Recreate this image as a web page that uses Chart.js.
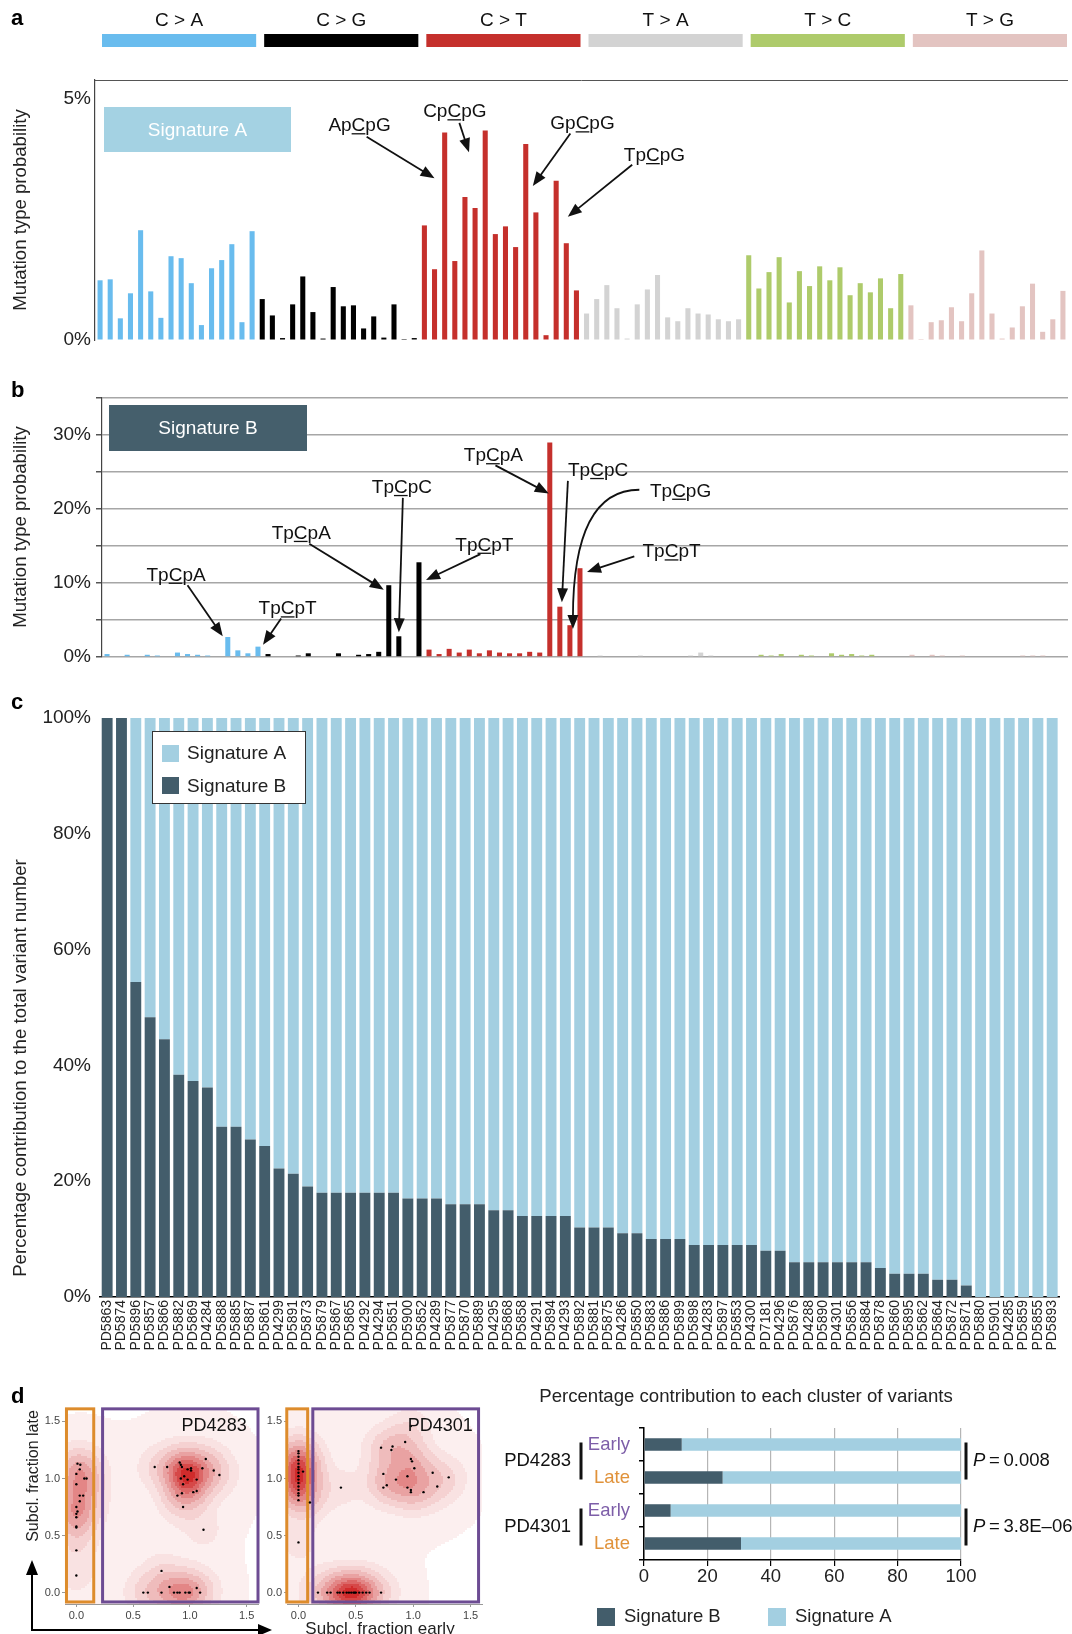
<!DOCTYPE html>
<html>
<head>
<meta charset="utf-8">
<script src="https://cdn.jsdelivr.net/npm/chart.js@4.4.1/dist/chart.umd.min.js"></script>
<style>
  body { margin: 0; background: #fff; }
  #page { position: relative; width: 1072px; height: 1634px; overflow: hidden; font-family: 'Liberation Sans', Arial, sans-serif; }
  canvas { position: absolute; }
  svg { position: absolute; left: 0; top: 0; pointer-events: none; }
</style>
</head>
<body>
<div id="page">
  <canvas id="chartA" width="1072" height="360" style="left:0;top:0"></canvas>
  <canvas id="chartB" width="1072" height="320" style="left:0;top:360px"></canvas>
  <canvas id="chartC" width="1072" height="680" style="left:0;top:690px"></canvas>
  <canvas id="chartD1" width="262" height="244" style="left:0;top:1390px"></canvas>
  <canvas id="chartD2" width="230" height="244" style="left:262px;top:1390px"></canvas>
  <canvas id="chartD3" width="592" height="254" style="left:480px;top:1380px"></canvas>
  <svg width="1072" height="1634" font-family="'Liberation Sans', Arial, sans-serif">
    <text x="11" y="25" font-size="22" font-weight="bold">a</text>
    <text x="11" y="397" font-size="22" font-weight="bold">b</text>
    <text x="11" y="709" font-size="22" font-weight="bold">c</text>
    <text x="11" y="1403" font-size="22" font-weight="bold">d</text>
    <line x1="32" y1="1630" x2="32" y2="1572" stroke="#000" stroke-width="2"/>
    <polygon points="32,1560 26,1575 38,1575" fill="#000"/>
    <line x1="31" y1="1630" x2="262" y2="1630" stroke="#000" stroke-width="2"/>
    <polygon points="272,1630 258,1624 258,1636" fill="#000"/>
    <text transform="translate(37.5,1476) rotate(-90)" text-anchor="middle" font-size="16" fill="#222">Subcl. fraction late</text>
    <text x="380" y="1634" text-anchor="middle" font-size="17" fill="#222">Subcl. fraction early</text>
  </svg>
</div>
<script>
const FONT = "'Liberation Sans', Arial, sans-serif";
Chart.defaults.font.family = FONT;
Chart.defaults.color = '#222';

// ---- panel a / b : mutational signatures (96 channels) ----
const substitutionTypes = ['C > A', 'C > G', 'C > T', 'T > A', 'T > C', 'T > G'];
const flanks = ['A', 'C', 'G', 'T'];

const sigA_CtoA = [1.24, 1.26, 0.45, 0.97, 2.28, 1.01, 0.46, 1.74, 1.70, 1.18, 0.31, 1.49, 1.66, 1.99, 0.37, 2.26];
const sigA_CtoG = [0.85, 0.51, 0.04, 0.74, 1.32, 0.58, 0.03, 1.10, 0.70, 0.72, 0.24, 0.49, 0.05, 0.74, 0.02, 0.04];
const sigA_CtoT = [2.38, 1.47, 4.31, 1.64, 2.97, 2.74, 4.35, 2.20, 2.36, 1.93, 4.07, 2.65, 0.10, 3.31, 2.01, 1.03];
const sigA_TtoA = [0.55, 0.85, 1.14, 0.66, 0.03, 0.74, 1.05, 1.35, 0.47, 0.39, 0.66, 0.55, 0.53, 0.43, 0.39, 0.43];
const sigA_TtoC = [1.76, 1.07, 1.41, 1.72, 0.78, 1.43, 1.12, 1.53, 1.24, 1.51, 0.93, 1.18, 0.99, 1.28, 0.66, 1.37];
const sigA_TtoG = [0.72, 0.02, 0.37, 0.41, 0.68, 0.39, 0.97, 1.86, 0.55, 0.03, 0.26, 0.70, 1.17, 0.17, 0.43, 1.02];

const sigB_CtoA = [0.4, 0.1, 0.3, 0.1, 0.3, 0.2, 0.1, 0.6, 0.4, 0.3, 0.2, 0.1, 2.7, 0.9, 0.5, 1.4];
const sigB_CtoG = [0.4, 0.1, 0.0, 0.2, 0.5, 0.0, 0.0, 0.5, 0.1, 0.3, 0.4, 0.7, 9.7, 2.8, 0.1, 12.8];
const sigB_CtoT = [1.0, 0.4, 1.1, 0.6, 1.0, 0.5, 0.9, 0.6, 0.5, 0.5, 0.7, 0.6, 29.0, 6.8, 4.3, 12.0];
const sigB_TtoA = [0.1, 0.2, 0.1, 0.0, 0.1, 0.2, 0.1, 0.1, 0.1, 0.1, 0.2, 0.6, 0.2, 0.1, 0.1, 0.1];
const sigB_TtoC = [0.1, 0.3, 0.2, 0.4, 0.1, 0.3, 0.2, 0.1, 0.5, 0.3, 0.4, 0.2, 0.3, 0.1, 0.1, 0.0];
const sigB_TtoG = [0.3, 0.1, 0.3, 0.2, 0.1, 0.2, 0.0, 0.0, 0.0, 0.0, 0.1, 0.2, 0.2, 0.2, 0.1, 0.1];

// ---- panel c : per-sample contribution ----
const samples = ['PD5863','PD5874','PD5896','PD5857','PD5866','PD5882','PD5869','PD4284','PD5888','PD5885',
  'PD5887','PD5861','PD4299','PD5891','PD5873','PD5879','PD5867','PD5865','PD4292','PD4294',
  'PD5851','PD5900','PD5852','PD4289','PD5877','PD5870','PD5889','PD4295','PD5868','PD5858',
  'PD4291','PD5894','PD4293','PD5892','PD5881','PD5875','PD4286','PD5850','PD5883','PD5886',
  'PD5899','PD5898','PD4283','PD5897','PD5853','PD4300','PD7181','PD4296','PD5876','PD4288',
  'PD5890','PD4301','PD5856','PD5884','PD5878','PD5860','PD5895','PD5862','PD5864','PD5872',
  'PD5871','PD5880','PD5901','PD4285','PD5859','PD5855','PD5893'];
const sampleSigB = [100, 100, 54.4, 48.3, 44.5, 38.4, 37.3, 36.2, 29.4, 29.4,
  27.2, 26.1, 22.2, 21.3, 19.1, 18, 18, 18, 18, 18,
  18, 17, 17, 17, 16, 16, 16, 15, 15, 14,
  14, 14, 14, 12, 12, 12, 11, 11, 10, 10,
  10, 9, 9, 9, 9, 9, 8, 8, 6, 6,
  6, 6, 6, 6, 5, 4, 4, 4, 3, 3,
  2, 0, 0, 0, 0, 0, 0];
const sampleSigA = [0, 0, 45.6, 51.7, 55.5, 61.6, 62.7, 63.8, 70.6, 70.6,
  72.8, 73.9, 77.8, 78.7, 80.9, 82, 82, 82, 82, 82,
  82, 83, 83, 83, 84, 84, 84, 85, 85, 86,
  86, 86, 86, 88, 88, 88, 89, 89, 90, 90,
  90, 91, 91, 91, 91, 91, 92, 92, 94, 94,
  94, 94, 94, 94, 95, 96, 96, 96, 97, 97,
  98, 100, 100, 100, 100, 100, 100];

// ---- panel d : subclonal fractions (early, late) ----
const pd4283Points = [[0.01,1.13],[0.035,1.12],[0.03,1.08],[0.0,1.04],[0.07,1.0],[0.09,1.0],[0.0,0.95],[0.03,0.85],
  [0.06,0.85],[0.03,0.80],[0.0,0.75],[0.01,0.71],[0.0,0.69],[0.0,0.66],[0.0,0.58],[0.0,0.57],[0.0,0.37],[0.0,0.15],
  [0.69,1.10],[0.80,1.10],[0.91,1.14],[0.92,1.12],[0.93,1.10],[0.98,1.08],[1.01,1.09],[1.01,1.07],[0.92,1.00],
  [0.95,1.02],[0.98,0.99],[1.06,0.99],[1.11,1.09],[1.14,1.17],[1.21,1.07],[1.26,1.03],[0.94,0.95],[0.89,0.85],
  [1.03,0.88],[1.06,0.89],[0.93,0.87],[0.94,0.75],[1.12,0.55],
  [0.59,0.0],[0.63,0.0],[0.75,0.0],[0.75,0.19],[0.82,0.05],[0.86,0.0],[0.89,0.0],[0.91,0.0],[0.96,0.0],
  [0.99,0.0],[1.0,0.0],[1.06,0.04],[1.09,0.0]];
const pd4301Points = [[0,1.24],[0,1.22],[0,1.19],[0,1.16],[0,1.13],[0,1.10],[0,1.08],[0,1.05],[0,1.02],[0,0.99],
  [0,0.96],[0,0.93],[0,0.90],[0,0.87],[0,0.85],[0,0.81],[0.04,1.06],[0.10,0.79],[0,0.44],
  [0.72,1.27],[0.81,1.25],[0.82,1.28],[0.93,1.32],[0.98,1.46],[0.74,1.04],[0.85,0.99],[0.95,1.02],[0.99,1.15],
  [0.98,1.17],[1.01,1.09],[0.74,0.92],[0.77,0.94],[0.95,0.92],[0.98,0.90],[0.98,0.88],[1.09,0.88],[1.17,1.05],
  [1.21,0.93],[1.31,1.01],[0.37,0.92],
  [0.17,0],[0.25,0],[0.28,0],[0.34,0],[0.36,0],[0.39,0],[0.42,0],[0.44,0],[0.46,0],[0.48,0],[0.49,0],
  [0.50,0],[0.53,0],[0.56,0],[0.59,0],[0.62,0],[0.72,0]];

const clusterLabels = ['Early', 'Late', 'Early', 'Late'];
const clusterPatients = ['PD4283', 'PD4301'];
const clusterSigB = [11.9, 24.8, 8.4, 30.6];
const clusterSigA = [88.1, 75.2, 91.6, 69.4];
const clusterPValues = ['0.008', '3.8E\u201306'];

// ---- styles ----
const typeColors = ['#69bcee', '#000000', '#c5302c', '#d3d3d3', '#aecb6b', '#e3c4c1'];
const colorSigA = '#a3cfe1';
const colorSigB = '#435d6b';
const earlyColor = '#7d5ea8';
const lateColor = '#e0923a';

const channels = [];
substitutionTypes.forEach(t => {
  const ref = t[0];
  flanks.forEach(a => flanks.forEach(b => channels.push(a + 'p' + ref + 'p' + b)));
});
const signatureA = [].concat(sigA_CtoA, sigA_CtoG, sigA_CtoT, sigA_TtoA, sigA_TtoC, sigA_TtoG);
const signatureB = [].concat(sigB_CtoA, sigB_CtoG, sigB_CtoT, sigB_TtoA, sigB_TtoC, sigB_TtoG);

// annotation positions in data units: [channel index, value]
const annotA = [
  { text: 'ApCpG', at: [25.6, 4.48], from: [26.3, 4.22], to: [33.0, 3.36] },
  { text: 'CpCpG', at: [35.0, 4.77], from: [35.45, 4.51], to: [36.4, 3.9] },
  { text: 'GpCpG', at: [47.6, 4.52], from: [46.4, 4.29], to: [42.7, 3.2] },
  { text: 'TpCpG', at: [54.7, 3.86], from: [52.5, 3.64], to: [46.15, 2.56] }
];
const annotB = [
  { text: 'TpCpA', at: [6.86, 11.25], from: [8.0, 9.7], to: [11.5, 2.8] },
  { text: 'TpCpT', at: [17.95, 6.7], from: [17.3, 5.2], to: [15.5, 1.66] },
  { text: 'TpCpA', at: [19.3, 16.9], from: [20.1, 15.3], to: [27.5, 9.1] },
  { text: 'TpCpC', at: [29.3, 23.1], from: [29.4, 21.5], to: [29.0, 3.35] },
  { text: 'TpCpT', at: [37.5, 15.3], from: [37.1, 13.9], to: [31.7, 10.4] },
  { text: 'TpCpA', at: [38.4, 27.4], from: [38.6, 25.9], to: [43.9, 22.1] },
  { text: 'TpCpC', at: [48.8, 25.4], from: [45.8, 23.8], to: [45.2, 7.4] },
  { text: 'TpCpG', at: [57.0, 22.6], from: [52.9, 22.6], to: [46.3, 3.8], bend: [46.3, 22.6] },
  { text: 'TpCpT', at: [56.1, 14.4], from: [52.4, 13.6], to: [47.7, 11.5] }
];

// ---- drawing helpers ----
function verticalText(ctx, text, x, y, size) {
  ctx.save();
  ctx.translate(x, y);
  ctx.rotate(-Math.PI / 2);
  ctx.font = size + 'px ' + FONT;
  ctx.fillStyle = '#222';
  ctx.textAlign = 'center';
  ctx.textBaseline = 'middle';
  ctx.fillText(text, 0, 0);
  ctx.restore();
}

function arrowHead(ctx, x, y, ang) {
  const L = 14, W = 5.5;
  ctx.beginPath();
  ctx.moveTo(x, y);
  ctx.lineTo(x - L * Math.cos(ang) + W * Math.sin(ang), y - L * Math.sin(ang) - W * Math.cos(ang));
  ctx.lineTo(x - L * Math.cos(ang) - W * Math.sin(ang), y - L * Math.sin(ang) + W * Math.cos(ang));
  ctx.closePath();
  ctx.fill();
}

function annotationPlugin(list) {
  return {
    id: 'motifs',
    afterDatasetsDraw(chart) {
      const { ctx, scales: { x, y } } = chart;
      const p = d => [x.getPixelForValue(d[0]), y.getPixelForValue(d[1])];
      ctx.save();
      ctx.fillStyle = '#111';
      ctx.strokeStyle = '#111';
      list.forEach(a => {
        const [cx, cy] = p(a.at);
        ctx.font = '19px ' + FONT;
        ctx.textAlign = 'left';
        ctx.textBaseline = 'alphabetic';
        const w = ctx.measureText(a.text).width;
        const left = cx - w / 2, base = cy + 7;
        ctx.fillText(a.text, left, base);
        const pre = ctx.measureText(a.text.slice(0, 2)).width;
        const cw = ctx.measureText(a.text[2]).width;
        ctx.lineWidth = 1.3;
        ctx.beginPath();
        ctx.moveTo(left + pre, base + 2.5);
        ctx.lineTo(left + pre + cw, base + 2.5);
        ctx.stroke();

        const [x1, y1] = p(a.from), [x2, y2] = p(a.to);
        ctx.lineWidth = 1.8;
        if (a.bend) {
          const [bx, by] = p(a.bend);
          const ang = Math.atan2(y2 - by, x2 - bx);
          ctx.beginPath();
          ctx.moveTo(x1, y1);
          ctx.quadraticCurveTo(bx, by, x2 - 11 * Math.cos(ang), y2 - 11 * Math.sin(ang));
          ctx.stroke();
          arrowHead(ctx, x2, y2, ang);
        } else {
          const ang = Math.atan2(y2 - y1, x2 - x1);
          ctx.beginPath();
          ctx.moveTo(x1, y1);
          ctx.lineTo(x2 - 11 * Math.cos(ang), y2 - 11 * Math.sin(ang));
          ctx.stroke();
          arrowHead(ctx, x2, y2, ang);
        }
      });
      ctx.restore();
    }
  };
}

function signatureBox(label, color, dx, dy, w, h) {
  return {
    id: 'sigBox',
    afterDatasetsDraw(chart) {
      const { ctx, chartArea: a } = chart;
      ctx.save();
      ctx.fillStyle = color;
      ctx.fillRect(a.left + dx, a.top + dy, w, h);
      ctx.fillStyle = '#fff';
      ctx.font = '19px ' + FONT;
      ctx.textAlign = 'center';
      ctx.textBaseline = 'middle';
      ctx.fillText(label, a.left + dx + w / 2, a.top + dy + h / 2 + 1);
      ctx.restore();
    }
  };
}

function yTitle(text, x, y) {
  return {
    id: 'yTitle',
    afterDraw(chart) { verticalText(chart.ctx, text, x, y, 18.6); }
  };
}

const headerPlugin = {
  id: 'header',
  afterDraw(chart) {
    const { ctx, scales: { x } } = chart;
    ctx.save();
    substitutionTypes.forEach((t, g) => {
      const l = x.getPixelForValue(g * 16 - 0.5) + 7;
      const r = x.getPixelForValue(g * 16 + 15.5) - 1;
      ctx.fillStyle = typeColors[g];
      ctx.fillRect(l, 34, r - l, 13);
      ctx.fillStyle = '#111';
      ctx.font = '19px ' + FONT;
      ctx.textAlign = 'center';
      ctx.textBaseline = 'middle';
      ctx.fillText(t, (l + r) / 2, 21);
    });
    ctx.restore();
  }
};

const topFrame = {
  id: 'topFrame',
  afterDraw(chart) {
    const { ctx, chartArea: a } = chart;
    ctx.save();
    ctx.strokeStyle = '#555';
    ctx.lineWidth = 1;
    ctx.beginPath();
    ctx.moveTo(a.left, a.top + 0.5);
    ctx.lineTo(a.right, a.top + 0.5);
    ctx.stroke();
    ctx.restore();
  }
};

const barColor = c => typeColors[Math.floor(c.dataIndex / 16)];

// ---- panel a ----
new Chart(document.getElementById('chartA'), {
  type: 'bar',
  data: { labels: channels, datasets: [{ data: signatureA, backgroundColor: barColor, barPercentage: 0.5, categoryPercentage: 1 }] },
  options: {
    responsive: false, animation: false,
    layout: { padding: { top: 80, right: 4, bottom: 20, left: 0 } },
    plugins: { legend: { display: false }, tooltip: { enabled: false } },
    scales: {
      x: { display: false },
      y: {
        min: 0, max: 5.4,
        afterFit: s => { s.width = 95; },
        afterBuildTicks: s => { s.ticks = [{ value: 0 }, { value: 5 }]; },
        ticks: { callback: v => v + '%', font: { size: 19 }, color: '#222', padding: 4 },
        grid: { drawOnChartArea: false, drawTicks: false, color: '#444' },
        border: { color: '#444', width: 1.2 }
      }
    }
  },
  plugins: [headerPlugin, topFrame, signatureBox('Signature A', '#a4d2e3', 9, 27, 187, 45),
    annotationPlugin(annotA), yTitle('Mutation type probability', 21, 210)]
});

// ---- panel b ----
new Chart(document.getElementById('chartB'), {
  type: 'bar',
  data: { labels: channels, datasets: [{ data: signatureB, backgroundColor: barColor, barPercentage: 0.5, categoryPercentage: 1 }] },
  options: {
    responsive: false, animation: false,
    layout: { padding: { top: 38, right: 4, bottom: 23, left: 0 } },
    plugins: { legend: { display: false }, tooltip: { enabled: false } },
    scales: {
      x: { display: false },
      y: {
        min: 0, max: 35,
        afterFit: s => { s.width = 102; },
        ticks: { stepSize: 5, callback: v => (v % 10 === 0 ? v + '%' : ''), font: { size: 19 }, color: '#222', padding: 5 },
        grid: { color: '#a6a6a6', lineWidth: 1.5, tickColor: '#555', tickLength: 6 },
        border: { color: '#444', width: 1.2 }
      }
    }
  },
  plugins: [signatureBox('Signature B', '#455f6c', 7, 7, 198, 46),
    annotationPlugin(annotB), yTitle('Mutation type probability', 21, 167)]
});

// ---- panel c ----
const legendC = {
  id: 'legendC',
  afterDatasetsDraw(chart) {
    const { ctx, chartArea: a } = chart;
    const bx = a.left + 52, by = a.top + 13, w = 153, h = 72;
    ctx.save();
    ctx.fillStyle = '#fff';
    ctx.fillRect(bx, by, w, h);
    ctx.strokeStyle = '#333';
    ctx.lineWidth = 1;
    ctx.strokeRect(bx + 0.5, by + 0.5, w, h);
    [['Signature A', colorSigA], ['Signature B', colorSigB]].forEach(([n, c], k) => {
      ctx.fillStyle = c;
      ctx.fillRect(bx + 10, by + 14 + k * 32, 17, 17);
      ctx.fillStyle = '#222';
      ctx.font = '19px ' + FONT;
      ctx.textAlign = 'left';
      ctx.textBaseline = 'middle';
      ctx.fillText(n, bx + 35, by + 23 + k * 32.5);
    });
    ctx.restore();
  }
};

new Chart(document.getElementById('chartC'), {
  type: 'bar',
  data: {
    labels: samples,
    datasets: [
      { label: 'Signature B', data: sampleSigB, backgroundColor: colorSigB, barPercentage: 0.76, categoryPercentage: 1 },
      { label: 'Signature A', data: sampleSigA, backgroundColor: colorSigA, barPercentage: 0.76, categoryPercentage: 1 }
    ]
  },
  options: {
    responsive: false, animation: false,
    layout: { padding: { top: 28, right: 0, bottom: 0, left: 0 } },
    plugins: { legend: { display: false }, tooltip: { enabled: false } },
    scales: {
      x: {
        stacked: true,
        afterFit: s => { s.height = 73; },
        ticks: { autoSkip: false, maxRotation: 90, minRotation: 90, font: { size: 14 }, color: '#222', padding: 3 },
        grid: { display: false, drawTicks: false },
        border: { color: '#000', width: 1.5 }
      },
      y: {
        stacked: true, min: 0, max: 100,
        afterFit: s => { s.width = 100; },
        ticks: { stepSize: 20, callback: v => v + '%', font: { size: 19 }, color: '#222', padding: 9 },
        grid: { display: false, drawTicks: false },
        border: { display: false }
      }
    }
  },
  plugins: [legendC, yTitle('Percentage contribution to the total variant number', 21, 378)]
});

// ---- panel d : density scatter plots ----
const densityLevels = [0.05, 0.14, 0.26, 0.4, 0.54, 0.68, 0.8, 0.92];
const densityColors = ['#f9e2e2', '#f5d1d1', '#efbcbc', '#e9a2a2', '#e38686', '#dc6767', '#d64848', '#d02b2b'];

function densityPlugin(points, frames, name) {
  return {
    id: 'density',
    beforeDatasetsDraw(chart) {
      const { ctx, chartArea: a, scales: { x, y } } = chart;
      const step = 2;
      const cols = Math.ceil((a.right - a.left) / step), rows = Math.ceil((a.bottom - a.top) / step);
      const fine = new Float32Array(cols * rows), broad = new Float32Array(cols * rows);
      let maxF = 0, maxB = 0;
      for (let r = 0; r < rows; r++) {
        const vy = y.getValueForPixel(a.top + r * step + step / 2);
        for (let c = 0; c < cols; c++) {
          const vx = x.getValueForPixel(a.left + c * step + step / 2);
          let f = 0, b = 0;
          for (const [px, py] of points) {
            const d2 = (vx - px) * (vx - px) + (vy - py) * (vy - py);
            f += Math.exp(-d2 / (2 * 0.12 * 0.12));
            b += Math.exp(-d2 / (2 * 0.24 * 0.24));
          }
          fine[r * cols + c] = f; broad[r * cols + c] = b;
          if (f > maxF) maxF = f;
          if (b > maxB) maxB = b;
        }
      }
      ctx.save();
      ctx.beginPath();
      ctx.rect(a.left, a.top, a.right - a.left, a.bottom - a.top);
      ctx.clip();
      for (let r = 0; r < rows; r++) {
        for (let c = 0; c < cols; c++) {
          const f = fine[r * cols + c] / maxF, b = broad[r * cols + c] / maxB;
          let col = null;
          if (b > 0.04) col = '#fcefef';
          for (let k = 0; k < densityLevels.length; k++) if (f >= densityLevels[k]) col = densityColors[k];
          if (col) {
            ctx.fillStyle = col;
            ctx.fillRect(a.left + c * step, a.top + r * step, step, step);
          }
        }
      }
      ctx.restore();
      // early / late cluster frames
      ctx.save();
      ctx.lineWidth = 3;
      frames.forEach(f => {
        ctx.strokeStyle = f.color;
        const l = x.getPixelForValue(f.x[0]), rr = x.getPixelForValue(f.x[1]);
        const t = y.getPixelForValue(f.y[1]), bb = y.getPixelForValue(f.y[0]);
        ctx.strokeRect(l, t, rr - l, bb - t);
      });
      ctx.restore();
    },
    afterDraw(chart) {
      const { ctx, scales: { x, y } } = chart;
      ctx.save();
      ctx.fillStyle = '#111';
      ctx.font = '18px ' + FONT;
      ctx.textAlign = 'right';
      ctx.textBaseline = 'middle';
      ctx.fillText(name.text, x.getPixelForValue(name.at[0]), y.getPixelForValue(name.at[1]));
      ctx.restore();
    }
  };
}

function scatterConfig(points, yWidth, padRight, plugin) {
  const fixedTicks = s => { s.ticks = [0, 0.5, 1, 1.5].map(v => ({ value: v })); };
  return {
    type: 'scatter',
    data: { datasets: [{ data: points.map(([x, y]) => ({ x, y })), pointRadius: 1.2, pointBackgroundColor: '#000', pointBorderWidth: 0 }] },
    options: {
      responsive: false, animation: false,
      layout: { padding: { top: 20, right: padRight, bottom: 0, left: 0 } },
      plugins: { legend: { display: false }, tooltip: { enabled: false } },
      scales: {
        x: {
          type: 'linear', min: -0.1, max: 1.6,
          afterFit: s => { s.height = 30; },
          afterBuildTicks: fixedTicks,
          ticks: { callback: v => v.toFixed(1), font: { size: 11 }, color: '#444', padding: 2 },
          grid: { drawOnChartArea: false, tickLength: 3, color: '#999' },
          border: { color: '#999' }
        },
        y: {
          type: 'linear', min: -0.1, max: 1.6,
          afterFit: s => { s.width = yWidth; },
          afterBuildTicks: fixedTicks,
          ticks: { callback: v => v.toFixed(1), font: { size: 11 }, color: '#444', padding: 2 },
          grid: { drawOnChartArea: false, tickLength: 3, color: '#999' },
          border: { color: '#999' }
        }
      }
    },
    plugins: [plugin]
  };
}

new Chart(document.getElementById('chartD1'), scatterConfig(pd4283Points, 65, 1,
  densityPlugin(pd4283Points, [
    { color: '#dd8c2c', x: [-0.087, 0.153], y: [-0.082, 1.61] },
    { color: '#6d4c93', x: [0.231, 1.6], y: [-0.082, 1.61] }
  ], { text: 'PD4283', at: [1.5, 1.46] })));

new Chart(document.getElementById('chartD2'), scatterConfig(pd4301Points, 25, 10,
  densityPlugin(pd4301Points, [
    { color: '#dd8c2c', x: [-0.102, 0.08], y: [-0.082, 1.61] },
    { color: '#6d4c93', x: [0.125, 1.57], y: [-0.082, 1.61] }
  ], { text: 'PD4301', at: [1.52, 1.46] })));

// ---- panel d : contribution to each cluster ----
const clusterDecor = {
  id: 'clusterDecor',
  afterDraw(chart) {
    const { ctx, chartArea: a, scales: { y } } = chart;
    ctx.save();
    ctx.fillStyle = '#222';
    ctx.font = '18.6px ' + FONT;
    ctx.textAlign = 'center';
    ctx.textBaseline = 'middle';
    ctx.fillText('Percentage contribution to each cluster of variants', a.left + 102, a.top - 31.5);
    clusterPatients.forEach((p, k) => {
      const y0 = y.getPixelForValue(2 * k), y1 = y.getPixelForValue(2 * k + 1);
      const ym = (y0 + y1) / 2;
      ctx.fillStyle = '#111';
      ctx.font = '18.5px ' + FONT;
      ctx.textAlign = 'right';
      ctx.fillText(p, a.left - 73, ym);
      ctx.fillRect(a.left - 64.5, y0 - 2, 3, y1 - y0 + 4);
      ctx.fillRect(a.right + 3.5, y0 - 2, 3, y1 - y0 + 4);
      ctx.textAlign = 'left';
      ctx.font = 'italic 18.5px ' + FONT;
      const px = a.right + 12;
      ctx.fillText('P', px, ym);
      const pw = ctx.measureText('P').width;
      ctx.font = '18.5px ' + FONT;
      ctx.fillText('\u2009=\u2009' + clusterPValues[k], px + pw, ym);
    });
    // legend
    const items = chart.data.datasets;
    const lx = [a.left - 47, a.left + 124];
    items.forEach((d, k) => {
      ctx.fillStyle = d.backgroundColor;
      ctx.fillRect(lx[k], a.bottom + 48, 18, 18);
      ctx.fillStyle = '#222';
      ctx.font = '18.5px ' + FONT;
      ctx.textAlign = 'left';
      ctx.fillText(d.label, lx[k] + 27, a.bottom + 57);
    });
    ctx.restore();
  }
};

new Chart(document.getElementById('chartD3'), {
  type: 'bar',
  data: {
    labels: clusterLabels,
    datasets: [
      { label: 'Signature B', data: clusterSigB, backgroundColor: colorSigB, barPercentage: 0.38, categoryPercentage: 1 },
      { label: 'Signature A', data: clusterSigA, backgroundColor: colorSigA, barPercentage: 0.38, categoryPercentage: 1 }
    ]
  },
  options: {
    indexAxis: 'y',
    responsive: false, animation: false,
    layout: { padding: { top: 48, right: 111, bottom: 0, left: 0 } },
    plugins: { legend: { display: false }, tooltip: { enabled: false } },
    scales: {
      x: {
        stacked: true, min: 0, max: 100,
        afterFit: s => { s.height = 74; },
        ticks: { stepSize: 20, font: { size: 18.5 }, color: '#222', padding: 0 },
        grid: { color: '#b5b5b5', lineWidth: 1.2, tickColor: '#000', tickLength: 6 },
        border: { color: '#000', width: 1.5 }
      },
      y: {
        stacked: true,
        afterFit: s => { s.width = 164; },
        ticks: { font: { size: 18.5 }, color: c => (c.index % 2 === 0 ? earlyColor : lateColor), padding: 9 },
        grid: { drawOnChartArea: false, offset: true, tickLength: 5, color: '#000', lineWidth: 1.5 },
        border: { color: '#000', width: 1.5 }
      }
    }
  },
  plugins: [clusterDecor]
});
</script>
</body>
</html>
